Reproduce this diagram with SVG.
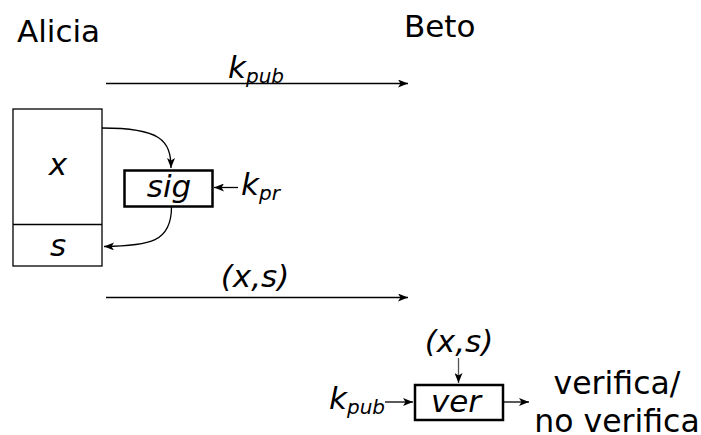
<svg xmlns="http://www.w3.org/2000/svg" width="701" height="435" viewBox="0 0 701 435">
  <style>
    text { font-family: "DejaVu Sans", sans-serif; font-size: 31px; fill: #000; }
    .it { font-style: italic; }
    .sub { font-size: 20px; font-style: italic; }
    .ln { fill: none; stroke: #000; stroke-width: 1.3; }
    .box { fill: #fff; stroke: #000; stroke-width: 1.3; }
    .fn { fill: #fff; stroke: #000; stroke-width: 2.5; }
  </style>
  <defs>
    <marker id="ah" viewBox="0 0 10 8" refX="10" refY="4" markerWidth="10" markerHeight="8" markerUnits="userSpaceOnUse" orient="auto">
      <path d="M0,0 L10,4 L0,8 L2.5,4 Z" fill="#000"/>
    </marker>
  </defs>

  <rect width="701" height="435" fill="#fff"/>

  <!-- party names -->
  <g id="alicia"><text x="17" y="42">Alicia</text></g>
  <g id="beto"><text x="404" y="37">Beto</text></g>

  <!-- message block held by Alicia -->
  <g id="msg">
    <rect class="box" x="13" y="109" width="89" height="157"/>
    <line class="ln" x1="13" y1="224.5" x2="102" y2="224.5"/>
    <text class="it" x="58" y="175" text-anchor="middle">x</text>
    <text class="it" x="58" y="256" text-anchor="middle">s</text>
  </g>

  <!-- signing function -->
  <g id="sig">
    <rect class="fn" x="124.5" y="170.5" width="88" height="36"/>
    <text class="it" x="169" y="197" text-anchor="middle">sig</text>
  </g>

  <g id="kpr">
    <text class="it" x="241" y="195">k<tspan class="sub" dy="5">pr</tspan></text>
  </g>

  <!-- verification function -->
  <g id="ver">
    <rect class="fn" x="415" y="385" width="88" height="35"/>
    <text class="it" x="456" y="412" text-anchor="middle">ver</text>
  </g>

  <g id="kpub-ver">
    <text class="it" x="329" y="409">k<tspan class="sub" dy="5">pub</tspan></text>
  </g>

  <g id="xs-ver">
    <text class="it" x="459" y="352" text-anchor="middle">(x,s)</text>
  </g>

  <g id="result">
    <text x="617" y="394" text-anchor="middle" style="font-size:31.5px">verifica/</text>
    <text x="617" y="432" text-anchor="middle" style="font-size:31.5px">no verifica</text>
  </g>

  <!-- transmitted messages -->
  <g id="kpub-msg">
    <text class="it" x="228" y="78">k<tspan class="sub" dy="5">pub</tspan></text>
  </g>
  <g id="xs-msg">
    <text class="it" x="255" y="287" text-anchor="middle">(x,s)</text>
  </g>

  <!-- connectors -->
  <g id="connectors">
    <line class="ln" x1="106" y1="83.5" x2="408" y2="83.5" marker-end="url(#ah)"/>
    <line class="ln" x1="106" y1="297.5" x2="408" y2="297.5" marker-end="url(#ah)"/>
    <path class="ln" d="M102,128 C160,128 171,140 171,168" marker-end="url(#ah)"/>
    <path class="ln" d="M171.5,207 C171.5,242 150,246 104,246.5" marker-end="url(#ah)"/>
    <line class="ln" x1="238" y1="187.5" x2="214" y2="187.5" marker-end="url(#ah)"/>
    <line class="ln" x1="458.5" y1="358" x2="458.5" y2="383" marker-end="url(#ah)" style="stroke:#555"/>
    <line class="ln" x1="385" y1="402" x2="413" y2="402" marker-end="url(#ah)"/>
    <line class="ln" x1="504" y1="402" x2="529" y2="402" marker-end="url(#ah)"/>
  </g>
</svg>
